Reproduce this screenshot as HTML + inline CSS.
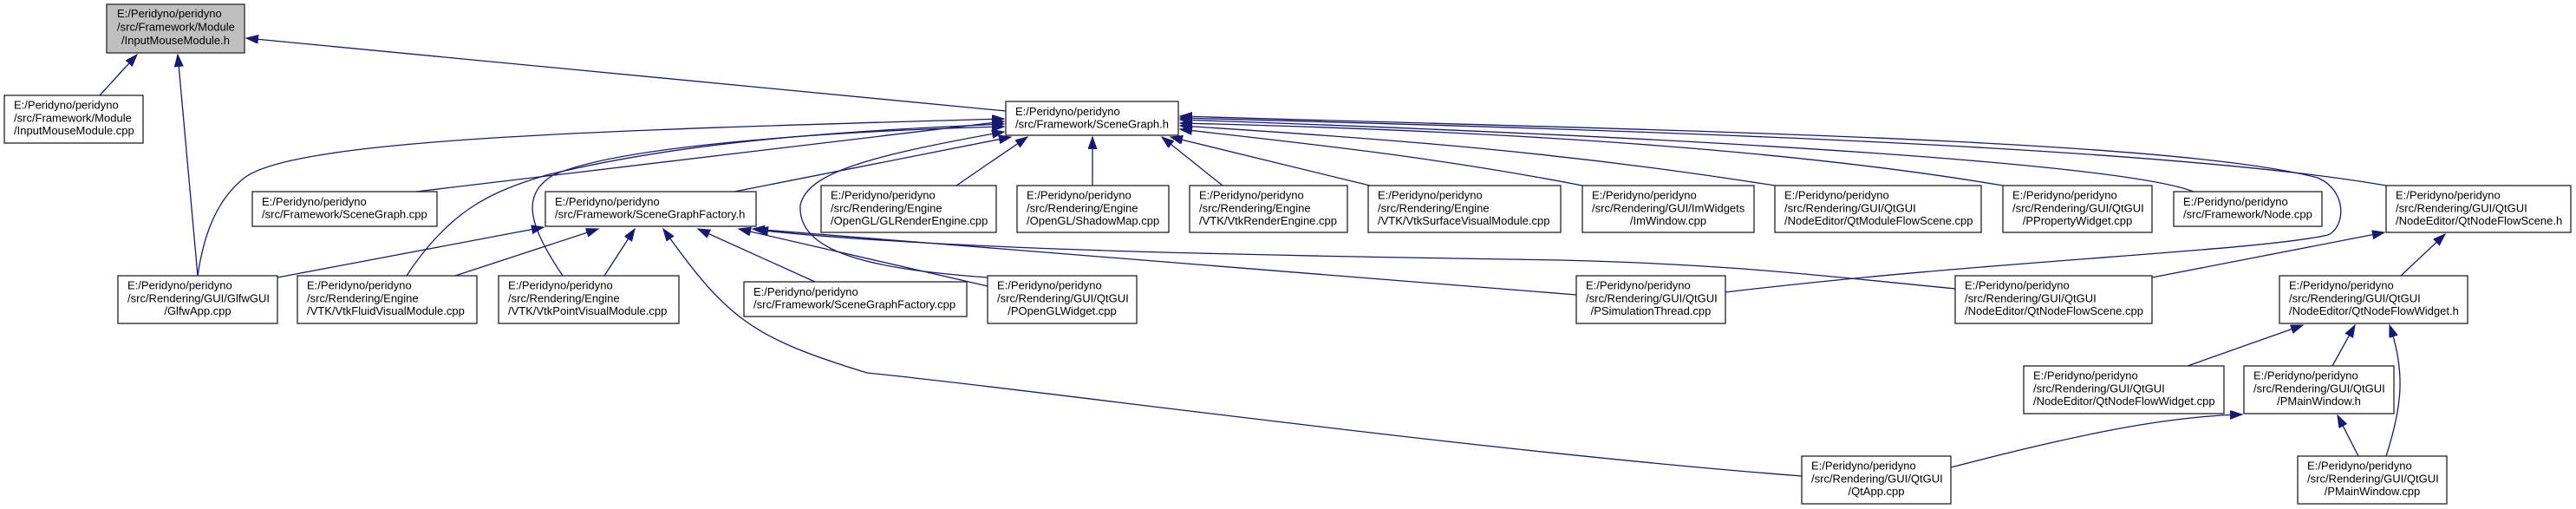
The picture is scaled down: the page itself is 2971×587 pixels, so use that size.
<!DOCTYPE html>
<html><head><meta charset="utf-8"><style>
html,body{margin:0;padding:0;background:#fff;}
svg{display:block;}
text{font-family:"Liberation Sans",Arial,sans-serif;font-size:13px;fill:#000;}
.b{fill:#fff;stroke:#222;stroke-width:1.3;}
.g{fill:#bfbfbf;stroke:#404040;stroke-width:1.5;}
.e{fill:none;stroke:#191970;stroke-width:1.3;marker-end:url(#ar);}
</style></head><body>
<svg width="2971" height="587" viewBox="0 0 2971 587" xmlns="http://www.w3.org/2000/svg">
<defs>
<marker id="ar" markerUnits="userSpaceOnUse" markerWidth="16" markerHeight="12" refX="14" refY="5" orient="auto">
<path d="M0,0 L14,5 L0,10 z" fill="#191970" stroke="#191970"/>
</marker>
</defs>

<!-- edges -->
<path class="e" d="M115,110 L158,63"/>
<path class="e" d="M228,318 L205,63"/>
<path class="e" d="M1160,128 L284,44"/>

<!-- SceneGraph.h incoming -->
<path class="e" d="M480,221 L1158,140"/>
<path class="e" d="M847,221 L1166,158"/>
<path class="e" d="M228,318 C235,270 250,230 282,205 C340,160 700,150 1158,137"/>
<path class="e" d="M469,318 C520,240 570,220 630,202 C800,160 1000,150 1158,143"/>
<path class="e" d="M649,318 C610,260 600,225 638,202 C720,165 1000,150 1158,146"/>
<path class="e" d="M1139,320 C1000,310 920,290 923,237 C930,200 1000,180 1158,152"/>
<path class="e" d="M1103,214 L1185,158"/>
<path class="e" d="M1260,214 L1260,158"/>
<path class="e" d="M1410,214 L1340,158"/>
<path class="e" d="M1580,214 L1350,158"/>
<path class="e" d="M1825,214 C1650,180 1500,165 1361,149"/>
<path class="e" d="M2047,214 C1800,175 1600,160 1361,145"/>
<path class="e" d="M2310,214 C2050,170 1700,150 1361,142"/>
<path class="e" d="M2530,221 C2450,190 2000,160 1361,138"/>
<path class="e" d="M2752,214 C2500,170 1900,150 1361,136"/>
<path class="e" d="M1990,337 C2300,300 2600,290 2685,271 C2705,262 2708,220 2673,205 C2500,160 1900,150 1361,134"/>

<!-- SceneGraphFactory.h incoming -->
<path class="e" d="M320,320 L627,262"/>
<path class="e" d="M525,318 L690,264"/>
<path class="e" d="M697,318 L732,264"/>
<path class="e" d="M940,325 L805,264"/>
<path class="e" d="M1139,330 L852,264"/>
<path class="e" d="M1818,340 L868,264"/>
<path class="e" d="M2255,333 C2100,318 2000,305 1800,300 C1500,295 1100,290 872,265"/>
<path class="e" d="M2078,549 C1700,520 1200,450 1000,430 C870,390 840,370 765,264"/>

<!-- QtNodeFlowScene.h -->
<path class="e" d="M2482,320 L2750,268"/>
<path class="e" d="M2769,318 L2820,270"/>
<!-- QtNodeFlowWidget.h -->
<path class="e" d="M2523,422 L2656,375"/>
<path class="e" d="M2690,422 L2716,375"/>
<path class="e" d="M2752,526 C2770,470 2775,430 2756,375"/>
<!-- PMainWindow.h -->
<path class="e" d="M2250,539 C2400,500 2500,480 2586,478"/>
<path class="e" d="M2720,526 L2696,479"/>

<!-- nodes -->
<rect class="g" x="123" y="5" width="159" height="56"/>
<text x="135" y="20">E:/Peridyno/peridyno</text>
<text x="135" y="35.5">/src/Framework/Module</text>
<text x="202.5" y="51" text-anchor="middle">/InputMouseModule.h</text>

<rect class="b" x="5" y="110" width="160" height="55"/>
<text x="16" y="125.5">E:/Peridyno/peridyno</text>
<text x="16" y="140.3">/src/Framework/Module</text>
<text x="16" y="155">/InputMouseModule.cpp</text>

<rect class="b" x="1160" y="117" width="199" height="39"/>
<text x="1171" y="133">E:/Peridyno/peridyno</text>
<text x="1171" y="147.5">/src/Framework/SceneGraph.h</text>

<rect class="b" x="291" y="221" width="213" height="40"/>
<text x="302" y="237">E:/Peridyno/peridyno</text>
<text x="302" y="251.5">/src/Framework/SceneGraph.cpp</text>

<rect class="b" x="629" y="221" width="243" height="40"/>
<text x="640" y="237">E:/Peridyno/peridyno</text>
<text x="640" y="251.5">/src/Framework/SceneGraphFactory.h</text>

<rect class="b" x="947" y="214" width="202" height="54"/>
<text x="958" y="229.5">E:/Peridyno/peridyno</text>
<text x="958" y="244.3">/src/Rendering/Engine</text>
<text x="958" y="259">/OpenGL/GLRenderEngine.cpp</text>

<rect class="b" x="1173" y="214" width="175" height="54"/>
<text x="1184" y="229.5">E:/Peridyno/peridyno</text>
<text x="1184" y="244.3">/src/Rendering/Engine</text>
<text x="1184" y="259">/OpenGL/ShadowMap.cpp</text>

<rect class="b" x="1372" y="214" width="182" height="54"/>
<text x="1383" y="229.5">E:/Peridyno/peridyno</text>
<text x="1383" y="244.3">/src/Rendering/Engine</text>
<text x="1383" y="259">/VTK/VtkRenderEngine.cpp</text>

<rect class="b" x="1578" y="214" width="222" height="54"/>
<text x="1589" y="229.5">E:/Peridyno/peridyno</text>
<text x="1589" y="244.3">/src/Rendering/Engine</text>
<text x="1589" y="259">/VTK/VtkSurfaceVisualModule.cpp</text>

<rect class="b" x="1825" y="214" width="198" height="54"/>
<text x="1836" y="229.5">E:/Peridyno/peridyno</text>
<text x="1836" y="244.3">/src/Rendering/GUI/ImWidgets</text>
<text x="1924" y="259" text-anchor="middle">/ImWindow.cpp</text>

<rect class="b" x="2047" y="214" width="238" height="54"/>
<text x="2058" y="229.5">E:/Peridyno/peridyno</text>
<text x="2058" y="244.3">/src/Rendering/GUI/QtGUI</text>
<text x="2058" y="259">/NodeEditor/QtModuleFlowScene.cpp</text>

<rect class="b" x="2310" y="214" width="172" height="54"/>
<text x="2321" y="229.5">E:/Peridyno/peridyno</text>
<text x="2321" y="244.3">/src/Rendering/GUI/QtGUI</text>
<text x="2396" y="259" text-anchor="middle">/PPropertyWidget.cpp</text>

<rect class="b" x="2507" y="221" width="171" height="40"/>
<text x="2518" y="237">E:/Peridyno/peridyno</text>
<text x="2518" y="251.5">/src/Framework/Node.cpp</text>

<rect class="b" x="2752" y="214" width="213" height="54"/>
<text x="2763" y="229.5">E:/Peridyno/peridyno</text>
<text x="2763" y="244.3">/src/Rendering/GUI/QtGUI</text>
<text x="2763" y="259">/NodeEditor/QtNodeFlowScene.h</text>

<rect class="b" x="136" y="318" width="184" height="55"/>
<text x="147" y="333.5">E:/Peridyno/peridyno</text>
<text x="147" y="348.3">/src/Rendering/GUI/GlfwGUI</text>
<text x="228" y="363" text-anchor="middle">/GlfwApp.cpp</text>

<rect class="b" x="343" y="318" width="207" height="55"/>
<text x="354" y="333.5">E:/Peridyno/peridyno</text>
<text x="354" y="348.3">/src/Rendering/Engine</text>
<text x="354" y="363">/VTK/VtkFluidVisualModule.cpp</text>

<rect class="b" x="575" y="318" width="208" height="55"/>
<text x="586" y="333.5">E:/Peridyno/peridyno</text>
<text x="586" y="348.3">/src/Rendering/Engine</text>
<text x="586" y="363">/VTK/VtkPointVisualModule.cpp</text>

<rect class="b" x="858" y="325" width="257" height="40"/>
<text x="869" y="341">E:/Peridyno/peridyno</text>
<text x="869" y="355.5">/src/Framework/SceneGraphFactory.cpp</text>

<rect class="b" x="1139" y="318" width="172" height="55"/>
<text x="1150" y="333.5">E:/Peridyno/peridyno</text>
<text x="1150" y="348.3">/src/Rendering/GUI/QtGUI</text>
<text x="1225" y="363" text-anchor="middle">/POpenGLWidget.cpp</text>

<rect class="b" x="1818" y="318" width="172" height="55"/>
<text x="1829" y="333.5">E:/Peridyno/peridyno</text>
<text x="1829" y="348.3">/src/Rendering/GUI/QtGUI</text>
<text x="1904" y="363" text-anchor="middle">/PSimulationThread.cpp</text>

<rect class="b" x="2255" y="318" width="227" height="55"/>
<text x="2266" y="333.5">E:/Peridyno/peridyno</text>
<text x="2266" y="348.3">/src/Rendering/GUI/QtGUI</text>
<text x="2266" y="363">/NodeEditor/QtNodeFlowScene.cpp</text>

<rect class="b" x="2629" y="318" width="217" height="55"/>
<text x="2640" y="333.5">E:/Peridyno/peridyno</text>
<text x="2640" y="348.3">/src/Rendering/GUI/QtGUI</text>
<text x="2640" y="363">/NodeEditor/QtNodeFlowWidget.h</text>

<rect class="b" x="2334" y="422" width="231" height="55"/>
<text x="2345" y="437.5">E:/Peridyno/peridyno</text>
<text x="2345" y="452.3">/src/Rendering/GUI/QtGUI</text>
<text x="2345" y="467">/NodeEditor/QtNodeFlowWidget.cpp</text>

<rect class="b" x="2588" y="422" width="173" height="55"/>
<text x="2599" y="437.5">E:/Peridyno/peridyno</text>
<text x="2599" y="452.3">/src/Rendering/GUI/QtGUI</text>
<text x="2674.5" y="467" text-anchor="middle">/PMainWindow.h</text>

<rect class="b" x="2078" y="526" width="172" height="55"/>
<text x="2089" y="541.5">E:/Peridyno/peridyno</text>
<text x="2089" y="556.3">/src/Rendering/GUI/QtGUI</text>
<text x="2164" y="571" text-anchor="middle">/QtApp.cpp</text>

<rect class="b" x="2650" y="526" width="172" height="55"/>
<text x="2661" y="541.5">E:/Peridyno/peridyno</text>
<text x="2661" y="556.3">/src/Rendering/GUI/QtGUI</text>
<text x="2736" y="571" text-anchor="middle">/PMainWindow.cpp</text>
</svg>
</body></html>
